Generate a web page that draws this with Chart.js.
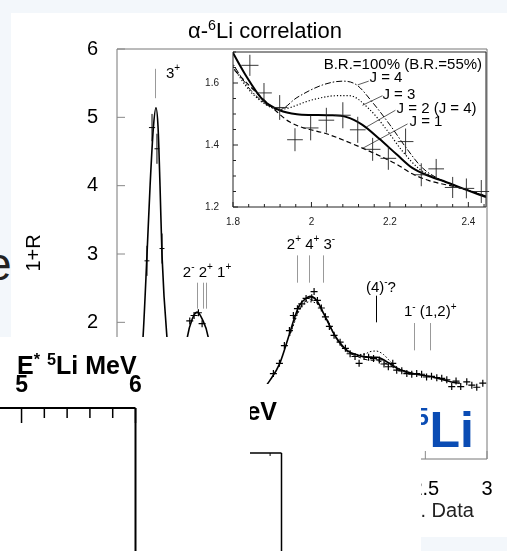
<!DOCTYPE html>
<html>
<head>
<meta charset="utf-8">
<script src="https://cdn.jsdelivr.net/npm/chart.js@4.4.1/dist/chart.umd.min.js"></script>
<style>
  body { margin: 0; width: 507px; height: 551px; overflow: hidden; background: #f3f7fb; position: relative; font-family: 'Liberation Sans', Arial, Helvetica, sans-serif; }
  #sheet { position: absolute; left: 11px; top: 13px; width: 496px; height: 524px; background: #fff; }
  canvas { position: absolute; }
  .txt { position: absolute; white-space: nowrap; line-height: 1; color: #000; }
  .txt sup { line-height: 0; font-size: 65%; }
  .panel { position: absolute; background: #fff; overflow: hidden; }
  .bold { font-weight: bold; }
</style>
</head>
<body>
<div id="sheet"></div>
<div class="txt" style="left:-14px; top:241px; font-size:46px; color:#222;">e</div>
<canvas id="main" width="507" height="551" style="left:0; top:0; z-index:1;"></canvas>
<div class="txt" style="left:165px; top:20px; width:200px; text-align:center; font-size:22px; z-index:1;">α-<sup>6</sup>Li correlation</div>
<div class="txt" style="left:3px; top:241px; width:60px; height:24px; line-height:24px; text-align:center; font-size:20px; transform:rotate(-90deg); z-index:1;">1+R</div>
<div class="txt" style="left:386px; top:500px; font-size:20px; color:#222; z-index:1;">Exp. Data</div>
<canvas id="inset" width="290" height="190" style="left:200px; top:40px; z-index:2;"></canvas>
<div style="position:absolute; left:0; top:0; z-index:3; color:#0a4cb4; font-family:'Liberation Sans Narrow','Liberation Sans',Arial,sans-serif; font-weight:bold;">
  <span class="txt" style="left:415.5px; top:404.7px; font-size:24px; color:#0a4cb4;">5</span>
  <span class="txt" style="left:429.5px; top:404.7px; font-size:50px; color:#0a4cb4;">Li</span>
</div>
<div class="panel" style="left:0; top:384px; width:421px; height:167px; z-index:4;">
  <canvas id="panelB" width="421" height="167" style="left:0; top:0;"></canvas>
  <div class="txt bold" style="right:144px; top:15px; font-size:25px;">E<sup>*</sup> <sup>5</sup>Li MeV</div>
</div>
<div class="panel" style="left:0; top:337px; width:250px; height:214px; z-index:5;">
  <canvas id="panelA" width="250" height="214" style="left:0; top:0;"></canvas>
  <div class="txt bold" style="left:17px; top:16px; font-size:25px;">E<sup>*</sup> <sup>5</sup>Li MeV</div>
</div>
<script>
// main spectrum: alpha-6Li correlation, 1+R vs E_rel (MeV)
const mainFitE = [0.12, 0.18, 0.211, 0.243, 0.268, 0.295, 0.316, 0.333, 0.349, 0.365, 0.405, 0.45, 0.50, 0.53, 0.57, 0.61, 0.65, 0.69, 0.74, 0.78, 0.85, 0.95, 1.05, 1.15, 1.24, 1.32, 1.40, 1.44, 1.48, 1.54, 1.565, 1.62, 1.67, 1.73, 1.78, 1.865, 1.95, 2.03, 2.11, 2.19, 2.27, 2.40, 2.56, 2.73, 2.78];
const mainFitR = [0.7, 1.1, 1.78, 2.98, 3.99, 4.85, 5.14, 4.85, 3.99, 2.98, 1.78, 1.15, 1.0, 1.2, 1.78, 2.05, 2.15, 2.05, 1.78, 1.2, 0.95, 0.85, 0.85, 0.95, 1.15, 1.40, 1.84, 2.07, 2.25, 2.36, 2.38, 2.32, 2.15, 1.93, 1.77, 1.59, 1.52, 1.49, 1.49, 1.42, 1.33, 1.25, 1.20, 1.12, 1.11];
const mainDotE = [1.40, 1.48, 1.56, 1.62, 1.70, 1.78, 1.86, 1.95, 2.0, 2.05, 2.1, 2.16, 2.22, 2.3, 2.4];
const mainDotR = [1.80, 2.18, 2.30, 2.27, 2.04, 1.75, 1.59, 1.53, 1.53, 1.57, 1.58, 1.53, 1.42, 1.31, 1.25];
const mainDashE = [1.40, 1.48, 1.56, 1.62, 1.70, 1.78, 1.86, 1.95, 2.03, 2.11, 2.19, 2.27, 2.4];
const mainDashR = [1.82, 2.20, 2.33, 2.29, 2.06, 1.76, 1.58, 1.50, 1.45, 1.44, 1.39, 1.31, 1.24];
const mainDataE = [0.59, 0.625, 0.66, 0.69, 1.268, 1.317, 1.357, 1.398, 1.430, 1.463, 1.498, 1.533, 1.579, 1.598, 1.625, 1.657, 1.69, 1.722, 1.76, 1.809, 1.852, 1.89, 1.93, 1.963, 2.003, 2.04, 2.08, 2.127, 2.165, 2.20, 2.236, 2.268, 2.309, 2.35, 2.39, 2.43, 2.47, 2.51, 2.55, 2.593, 2.633, 2.674, 2.714, 2.749, 2.787, 2.836, 2.877, 2.917, 2.966];
const mainDataR = [2.02, 2.10, 2.14, 1.98, 1.25, 1.40, 1.66, 1.88, 2.10, 2.20, 2.27, 2.35, 2.36, 2.45, 2.32, 2.21, 2.08, 1.94, 1.81, 1.71, 1.62, 1.54, 1.50, 1.40, 1.50, 1.49, 1.47, 1.45, 1.39, 1.35, 1.40, 1.30, 1.29, 1.25, 1.24, 1.25, 1.24, 1.20, 1.21, 1.19, 1.18, 1.16, 1.06, 1.14, 1.06, 1.13, 1.08, 1.05, 1.11];
const peakE = [0.243, 0.284, 0.324, 0.365];
const peakR = [2.90, 4.85, 4.54, 3.08];
const peakErrE = [0.02, 0.025, 0.02, 0.02];
const peakErrR = [0.22, 0.2, 0.22, 0.22];

// 10B levels above the alpha+6Li threshold
const levelE = [0.31, 0.65, 0.70, 0.72, 1.46, 1.56, 1.67, 2.10, 2.41, 2.54];
const levelTop = [5.71, 2.58, 2.58, 2.58, 2.98, 2.98, 2.98, 2.39, 1.99, 1.99];
const levelBottom = [5.28, 2.20, 2.20, 2.20, 2.58, 2.58, 2.58, 2.00, 1.59, 1.59];
const levelColor = ['#999', '#999', '#999', '#999', '#999', '#999', '#999', '#000', '#999', '#999'];
const levelText = ['3^{+}', '2^{-} 2^{+} 1^{+}', '2^{+} 4^{+} 3^{-}', '(4)^{-}?', '1^{-} (1,2)^{+}'];
const levelTextE = [0.397, 0.73, 1.573, 2.14, 2.54];
const levelTextR = [5.58, 2.67, 3.08, 2.45, 2.09];
const levelTextAlign = ['left', 'center', 'center', 'center', 'center'];

// inset: zoom on the 2-2.4 MeV region
const insetDataE = [1.843, 1.879, 1.919, 1.958, 1.998, 2.038, 2.08, 2.118, 2.156, 2.196, 2.24, 2.28, 2.318, 2.36, 2.395, 2.433];
const insetDataR = [1.657, 1.568, 1.521, 1.417, 1.455, 1.48, 1.496, 1.449, 1.386, 1.357, 1.411, 1.304, 1.323, 1.263, 1.26, 1.25];
const insetErrE = [0.022, 0.02, 0.02, 0.02, 0.02, 0.02, 0.02, 0.02, 0.02, 0.02, 0.02, 0.02, 0.02, 0.02, 0.02, 0.02];
const insetErrR = [0.034, 0.032, 0.04, 0.037, 0.04, 0.04, 0.042, 0.042, 0.037, 0.037, 0.042, 0.037, 0.032, 0.034, 0.032, 0.037];
const j2E = [1.79, 1.83, 1.876, 1.919, 1.963, 2.0, 2.046, 2.09, 2.13, 2.173, 2.217, 2.257, 2.30, 2.344, 2.385, 2.445];
const j2R = [1.72, 1.63, 1.546, 1.512, 1.499, 1.497, 1.496, 1.49, 1.465, 1.42, 1.37, 1.326, 1.30, 1.28, 1.26, 1.232];
const j4E = [1.79, 1.85, 1.919, 1.963, 2.029, 2.08, 2.115, 2.156, 2.2, 2.242, 2.283, 2.334, 2.385, 2.445];
const j4R = [1.68, 1.57, 1.515, 1.553, 1.594, 1.606, 1.594, 1.537, 1.465, 1.39, 1.326, 1.285, 1.26, 1.235];
const j3E = [1.79, 1.85, 1.919, 2.003, 2.064, 2.097, 2.148, 2.19, 2.232, 2.275, 2.334, 2.385, 2.445];
const j3R = [1.67, 1.565, 1.515, 1.546, 1.559, 1.559, 1.515, 1.452, 1.38, 1.323, 1.285, 1.26, 1.235];
const j1E = [1.79, 1.843, 1.894, 1.945, 2.046, 2.13, 2.217, 2.257, 2.30, 2.385, 2.445];
const j1R = [1.66, 1.59, 1.528, 1.474, 1.433, 1.39, 1.338, 1.307, 1.285, 1.26, 1.235];
const leaderE0 = [2.146, 2.181, 2.214, 2.245];
const leaderR0 = [1.606, 1.559, 1.512, 1.468];
const leaderE1 = [2.118, 2.13, 2.14, 2.13];
const leaderR1 = [1.594, 1.528, 1.458, 1.389];
const insetText = ['B.R.=100% (B.R.=55%)', 'J = 4', 'J = 3', 'J = 2 (J = 4)', 'J = 1'];
const insetTextE = [2.435, 2.148, 2.181, 2.217, 2.25];
const insetTextR = [1.645, 1.603, 1.55, 1.502, 1.461];
const insetTextAlign = ['right', 'left', 'left', 'left', 'left'];

// E* 5Li axis strips
const panelAMin = 4.811, panelAMax = 6.0;
const panelBMin = 3.63, panelBMax = 6.1;

const FONT = "'Liberation Sans', Arial, Helvetica, sans-serif";
Chart.defaults.font.family = FONT;

function pts(xs, ys) {
    return xs.map((x, i) => ({ x: x, y: ys[i] }));
}

function isMult(v, step) {
    return Math.abs(v / step - Math.round(v / step)) < 1e-6;
}

function framePlugin(color, width, sides) {
    return {
        id: 'frame',
        afterDatasetsDraw(chart) {
            const { ctx, chartArea: a } = chart;
            ctx.save();
            ctx.strokeStyle = color;
            ctx.lineWidth = width;
            ctx.beginPath();
            if (sides.includes('t')) { ctx.moveTo(a.left, a.top); ctx.lineTo(a.right, a.top); }
            if (sides.includes('r')) { ctx.moveTo(a.right, a.top); ctx.lineTo(a.right, a.bottom); }
            if (sides.includes('b')) { ctx.moveTo(a.left, a.bottom); ctx.lineTo(a.right, a.bottom); }
            if (sides.includes('l')) { ctx.moveTo(a.left, a.top); ctx.lineTo(a.left, a.bottom); }
            ctx.stroke();
            ctx.restore();
        }
    };
}

// ticks drawn into the plot area; axes = {id: [majorStep, majorLen, minorLen]}
function innerTicks(color, width, axes) {
    return {
        id: 'innerTicks',
        afterDatasetsDraw(chart) {
            const { ctx, chartArea: a } = chart;
            ctx.save();
            ctx.strokeStyle = color;
            ctx.lineWidth = width;
            for (const id in axes) {
                const s = chart.scales[id];
                const [step, majorLen, minorLen] = axes[id];
                s.ticks.forEach(t => {
                    const v = t.value;
                    if (v < s.min - 1e-9 || v > s.max + 1e-9) return;
                    const len = isMult(v, step) ? majorLen : minorLen;
                    if (!len) return;
                    const p = s.getPixelForValue(v);
                    ctx.beginPath();
                    if (s.isHorizontal()) {
                        const y0 = s.position === 'top' ? a.top : a.bottom;
                        const dir = s.position === 'top' ? 1 : -1;
                        ctx.moveTo(p, y0);
                        ctx.lineTo(p, y0 + dir * len);
                    } else {
                        const x0 = s.position === 'right' ? a.right : a.left;
                        const dir = s.position === 'right' ? -1 : 1;
                        ctx.moveTo(x0, p);
                        ctx.lineTo(x0 + dir * len, p);
                    }
                    ctx.stroke();
                });
            }
            ctx.restore();
        }
    };
}

function errorBars(xs, ys, ex, ey, color, width) {
    return {
        id: 'errorBars',
        afterDatasetsDraw(chart) {
            const { ctx, scales: { x, y } } = chart;
            ctx.save();
            ctx.strokeStyle = color;
            ctx.lineWidth = width;
            xs.forEach((v, i) => {
                ctx.beginPath();
                ctx.moveTo(x.getPixelForValue(v - ex[i]), y.getPixelForValue(ys[i]));
                ctx.lineTo(x.getPixelForValue(v + ex[i]), y.getPixelForValue(ys[i]));
                ctx.moveTo(x.getPixelForValue(v), y.getPixelForValue(ys[i] - ey[i]));
                ctx.lineTo(x.getPixelForValue(v), y.getPixelForValue(ys[i] + ey[i]));
                ctx.stroke();
            });
            ctx.restore();
        }
    };
}

function levelLines() {
    return {
        id: 'levelLines',
        afterDatasetsDraw(chart) {
            const { ctx, scales: { x, y } } = chart;
            ctx.save();
            ctx.lineWidth = 1;
            levelE.forEach((e, i) => {
                const px = Math.round(x.getPixelForValue(e)) + 0.5;
                ctx.strokeStyle = levelColor[i];
                ctx.beginPath();
                ctx.moveTo(px, y.getPixelForValue(levelTop[i]));
                ctx.lineTo(px, y.getPixelForValue(levelBottom[i]));
                ctx.stroke();
            });
            ctx.restore();
        }
    };
}

// text with ^{...} superscripts, anchored at data coordinates
function drawRich(ctx, str, x, y, align, size) {
    const parts = [];
    str.replace(/\^\{([^}]*)\}|([^^]+)/g, (m, sup, txt) => {
        parts.push(sup !== undefined ? { t: sup, sup: true } : { t: txt, sup: false });
    });
    const big = size + 'px ' + FONT;
    const small = Math.round(size * 0.68) + 'px ' + FONT;
    let w = 0;
    parts.forEach(p => {
        ctx.font = p.sup ? small : big;
        p.w = ctx.measureText(p.t).width;
        w += p.w;
    });
    let cx = align === 'center' ? x - w / 2 : align === 'right' ? x - w : x;
    ctx.textAlign = 'left';
    ctx.textBaseline = 'alphabetic';
    parts.forEach(p => {
        ctx.font = p.sup ? small : big;
        ctx.fillText(p.t, cx, p.sup ? y - size * 0.42 : y);
        cx += p.w;
    });
}

function textLabels(texts, xs, ys, aligns, size, color) {
    return {
        id: 'textLabels',
        afterDatasetsDraw(chart) {
            const { ctx, scales: { x, y } } = chart;
            ctx.save();
            ctx.fillStyle = color;
            texts.forEach((t, i) => {
                drawRich(ctx, t, x.getPixelForValue(xs[i]), y.getPixelForValue(ys[i]), aligns[i], size);
            });
            ctx.restore();
        }
    };
}

const whiteArea = {
    id: 'whiteArea',
    beforeDraw(chart) {
        const { ctx, chartArea: a } = chart;
        ctx.save();
        ctx.fillStyle = '#fff';
        ctx.fillRect(a.left, a.top, a.right - a.left, a.bottom - a.top);
        ctx.restore();
    }
};

const baseOptions = {
    responsive: false,
    animation: false,
    devicePixelRatio: 1,
    plugins: { legend: { display: false }, tooltip: { enabled: false } }
};

function lineSet(xs, ys, width, dash) {
    return {
        data: pts(xs, ys),
        showLine: true,
        borderColor: '#000',
        borderWidth: width,
        borderDash: dash,
        pointRadius: 0,
        cubicInterpolationMode: 'monotone'
    };
}

new Chart(document.getElementById('main'), {
    type: 'scatter',
    data: {
        datasets: [
            lineSet(mainDotE, mainDotR, 1, [1.5, 2]),
            lineSet(mainDashE, mainDashR, 1, [4, 3]),
            lineSet(mainFitE, mainFitR, 1.6, []),
            {
                data: pts(mainDataE, mainDataR),
                pointStyle: 'cross',
                pointRadius: 3.5,
                borderColor: '#000',
                borderWidth: 1.2
            }
        ]
    },
    options: {
        ...baseOptions,
        layout: { padding: { left: 57, top: 49, right: 20, bottom: 52 } },
        scales: {
            x: {
                min: 0, max: 3,
                ticks: {
                    stepSize: 0.5, padding: 10, color: '#000', font: { size: 20 }, maxRotation: 0, autoSkip: false,
                    callback: v => String(v)
                },
                grid: { display: false },
                border: { display: false },
                afterFit: s => { s.height = 40; }
            },
            y: {
                min: 0, max: 6,
                ticks: { stepSize: 1, padding: 11, color: '#000', font: { size: 20 } },
                grid: { display: false },
                border: { display: false },
                afterFit: s => { s.width = 60; }
            }
        }
    },
    plugins: [
        framePlugin('#777', 1, 'tlrb'),
        innerTicks('#888', 1, { x: [0.5, 8, 0], y: [1, 8, 0] }),
        levelLines(),
        errorBars(peakE, peakR, peakErrE, peakErrR, '#000', 1),
        textLabels(levelText, levelTextE, levelTextR, levelTextAlign, 15, '#000')
    ]
});

const insetDatasets = [
    lineSet(j1E, j1R, 1.2, [5, 3]),
    lineSet(j3E, j3R, 1.2, [1.2, 2]),
    lineSet(j4E, j4R, 1, [6, 2, 1.5, 2]),
    lineSet(j2E, j2R, 2, [])
];
leaderE0.forEach((e, i) => {
    insetDatasets.push({
        data: [{ x: e, y: leaderR0[i] }, { x: leaderE1[i], y: leaderR1[i] }],
        showLine: true,
        borderColor: '#333',
        borderWidth: 0.8,
        pointRadius: 0
    });
});

new Chart(document.getElementById('inset'), {
    type: 'scatter',
    data: { datasets: insetDatasets },
    options: {
        ...baseOptions,
        layout: { padding: { left: 0, top: 9, right: 4, bottom: 0 } },
        scales: {
            x: {
                min: 1.8, max: 2.445,
                ticks: {
                    stepSize: 0.04, includeBounds: false, padding: 1, color: '#222', font: { size: 10 },
                    maxRotation: 0, autoSkip: false,
                    callback: v => isMult(v, 0.2) ? String(Math.round(v * 10) / 10) : ''
                },
                grid: { display: false },
                border: { display: false },
                afterFit: s => { s.height = 23; }
            },
            y: {
                min: 1.2, max: 1.7,
                ticks: {
                    stepSize: 0.05, includeBounds: false, padding: 6, color: '#222', font: { size: 10 },
                    autoSkip: false,
                    callback: v => isMult(v, 0.2) ? v.toFixed(1) : ''
                },
                grid: { display: false },
                border: { display: false },
                afterFit: s => { s.width = 33; }
            }
        }
    },
    plugins: [
        whiteArea,
        framePlugin('#222', 1, 'tlrb'),
        innerTicks('#222', 1, { x: [0.2, 5, 3], y: [0.2, 5, 3] }),
        errorBars(insetDataE, insetDataR, insetErrE, insetErrR, '#222', 0.9),
        textLabels(insetText, insetTextE, insetTextR, insetTextAlign, 15, '#000')
    ]
});

new Chart(document.getElementById('panelA'), {
    type: 'scatter',
    data: { datasets: [] },
    options: {
        ...baseOptions,
        layout: { padding: { left: 0, top: 31, right: 114.5, bottom: 0 } },
        scales: {
            x: {
                position: 'top',
                min: panelAMin, max: panelAMax,
                ticks: {
                    stepSize: 0.2, includeBounds: false, padding: 1, color: '#000',
                    font: { size: 23, weight: 'bold' }, maxRotation: 0, autoSkip: false,
                    callback: v => isMult(v, 1) ? String(Math.round(v)) : ''
                },
                grid: { display: false },
                border: { display: false },
                afterFit: s => { s.height = 40; }
            },
            y: { display: false, min: 0, max: 1 }
        }
    },
    plugins: [
        framePlugin('#000', 2, 'tr'),
        innerTicks('#000', 1.5, { x: [1, 15, 10] })
    ]
});

new Chart(document.getElementById('panelB'), {
    type: 'scatter',
    data: { datasets: [] },
    options: {
        ...baseOptions,
        layout: { padding: { left: 0, top: 49, right: 139.5, bottom: 0 } },
        scales: {
            x: {
                position: 'top',
                min: panelBMin, max: panelBMax,
                ticks: { stepSize: 0.2, includeBounds: false, display: false },
                grid: { display: false },
                border: { display: false },
                afterFit: s => { s.height = 20; }
            },
            y: { display: false, min: 0, max: 1 }
        }
    },
    plugins: [
        framePlugin('#000', 1.5, 'tr'),
        innerTicks('#000', 1, { x: [1, 3, 3] })
    ]
});
</script>
</body>
</html>
